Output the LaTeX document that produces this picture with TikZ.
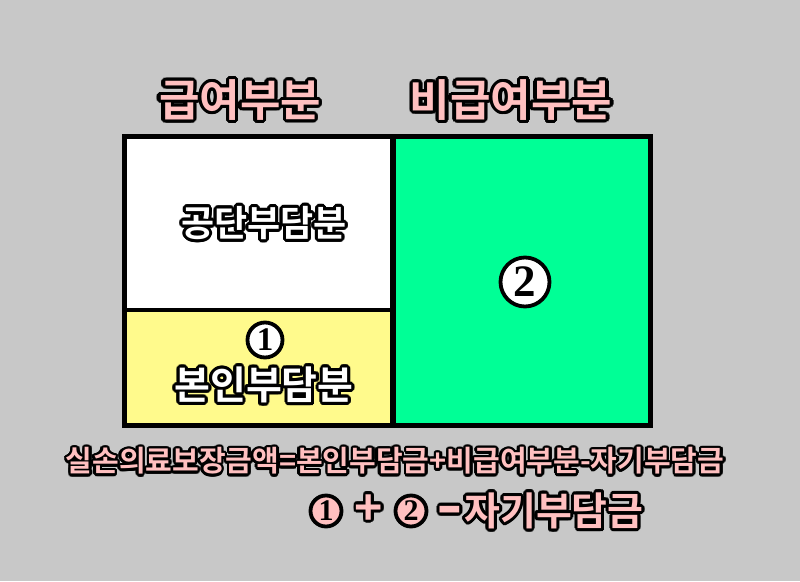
\documentclass[tikz,border=0pt]{standalone}
\usepackage{fontspec}
\usepackage{graphicx}
\newfontfamily\kr{Noto Sans CJK KR Bold}
\newfontfamily\dig{Liberation Serif}
\definecolor{bggray}{RGB}{200,200,200}
\definecolor{pinktxt}{RGB}{255,192,192}
\definecolor{boxgreen}{RGB}{0,255,150}
\definecolor{boxyellow}{RGB}{255,250,140}
\newcommand{\otext}[6]{% name, position (x,y without parens), font, fill colour, outline radius, text
  \foreach \a [count=\i] in {0,22.5,...,337.5}{
    \node[font=#3, text=black, inner sep=0pt] (#1-o\i) at ([shift={(\a:#5)}]#2) {#6};
    \node[font=#3, text=black, inner sep=0pt] (#1-p\i) at ([shift={(\a:#5*0.55)}]#2) {#6};
  }
  \node[font=#3, text=#4, inner sep=0pt] (#1) at (#2) {#6};
}
\tikzset{
  numcircle/.style={circle, draw=black, line width=3.8pt, inner sep=0pt, text=black}
}
\begin{document}
\begin{tikzpicture}[x=1pt,y=-1pt]
\fill[bggray] (0,0) rectangle (800,581);
\useasboundingbox (0,0) rectangle (800,581);
% boxes
\fill[white] (124.5,136.5) rectangle (393,310);
\fill[boxyellow] (124.5,310) rectangle (393,425.5);
\fill[boxgreen] (393,136.5) rectangle (650.5,425.5);
\draw[line width=5pt] (124.5,136.5) rectangle (650.5,425.5);
\draw[line width=6pt] (393,136.5) -- (393,425.5);
\draw[line width=4.5pt] (124.5,310) -- (393,310);
% titles
\otext{t1}{240,100}{\kr\fontsize{44}{44}\selectfont}{pinktxt}{3.3pt}{급여부분}
\otext{t2}{511,100}{\kr\fontsize{44}{44}\selectfont}{pinktxt}{3.3pt}{비급여부분}
% box labels
\otext{t3}{264,223}{\kr\fontsize{36}{36}\selectfont}{white}{3pt}{공단부담분}
\otext{t4}{264,385}{\kr\fontsize{39}{39}\selectfont}{white}{3pt}{본인부담분}
\node[numcircle, fill=white, minimum size=35pt, font=\dig\bfseries\fontsize{33}{33}\selectfont] (c1) at (265,340) {1};
\node[numcircle, fill=white, minimum size=49pt, font=\dig\bfseries\fontsize{45}{45}\selectfont] (c2) at (525,282) {2};
% formula
\otext{t5}{395,461}{\kr\fontsize{29}{29}\selectfont}{pinktxt}{2.6pt}{실손의료보장금액=본인부담금+비급여부분-자기부담금}
\node[numcircle, fill=pinktxt, minimum size=31pt, font=\dig\bfseries\fontsize{30}{30}\selectfont] (c3) at (326,511) {1};
\otext{plus}{369,510}{\kr\fontsize{48}{48}\selectfont}{pinktxt}{2.8pt}{+}
\node[numcircle, fill=pinktxt, minimum size=31pt, font=\dig\bfseries\fontsize{30}{30}\selectfont] (c4) at (411,511) {2};
\otext{minus}{450,517}{\kr\fontsize{48}{48}\selectfont}{pinktxt}{2.8pt}{\scalebox{1.5}[1.3]{-}}
\otext{t6}{554,511}{\kr\fontsize{39}{39}\selectfont}{pinktxt}{3pt}{자기부담금}
\end{tikzpicture}
\end{document}
